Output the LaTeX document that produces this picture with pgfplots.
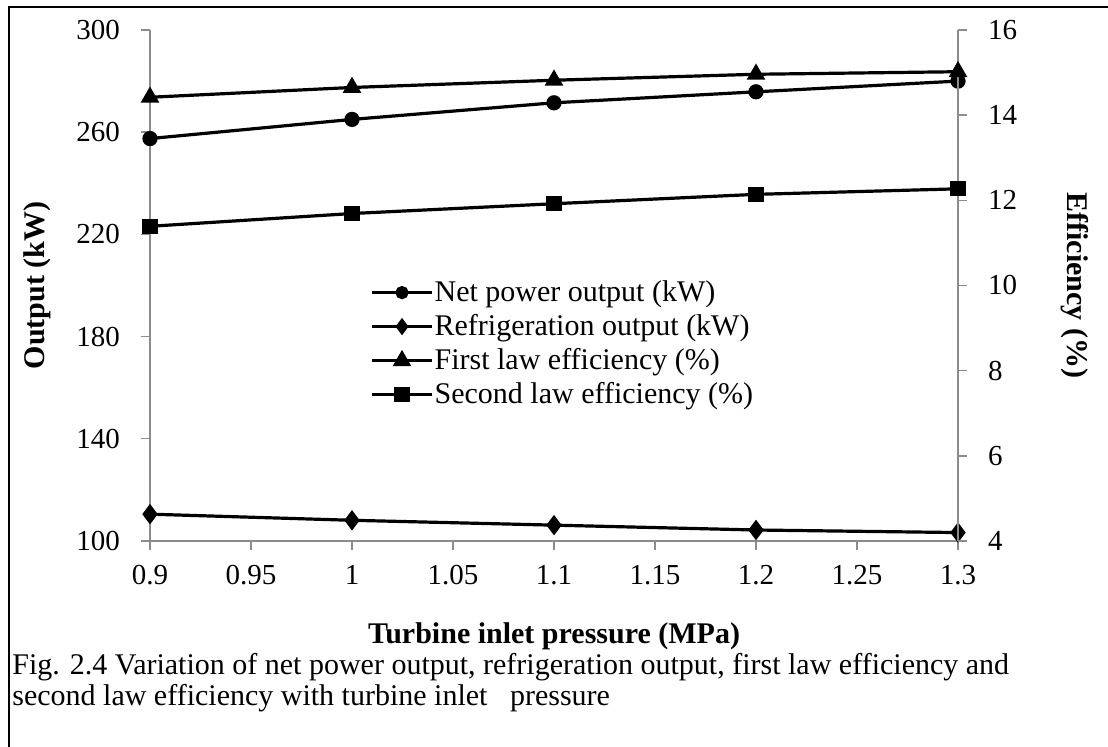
\documentclass[border=0pt]{standalone}
\usepackage{fontspec}
\setmainfont{Liberation Serif}
\usepackage{pgfplots}
\usepackage{pgfplotstable}
\pgfplotsset{compat=1.18}

\pgfplotstableread{
x net ref first second
0.9 257.5 110.5 14.42 11.39
1.0 265.0 108.1 14.65 11.69
1.1 271.5 106.2 14.82 11.92
1.2 275.8 104.3 14.96 12.14
1.3 280.0 103.3 15.02 12.27
}\datatable

\pgfplotsset{common/.style={
  scale only axis, width=404pt, height=255.5pt,
  xmin=0.9, xmax=1.3,
  axis line style={black!45, line width=0.7pt},
  tick style={black!45, line width=0.7pt},
  tick align=outside, major tick length=4.5pt,
  ticklabel style={font=\fontsize{14.5}{16}\selectfont},
  /pgf/number format/assume math mode=true,
  legend image code/.code={\draw[mark repeat=2,mark phase=2] plot coordinates {(0pt,0pt) (15pt,0pt) (30pt,0pt)};},
}}

\begin{document}
\begin{tikzpicture}
\begin{axis}[common,
  axis x line*=bottom, axis y line*=left,
  ymin=100, ymax=300, ytick={100,140,180,220,260,300},
  xtick={0.9,0.95,1,1.05,1.1,1.15,1.2,1.25,1.3},
  xticklabels={0.9,0.95,1,1.05,1.1,1.15,1.2,1.25,1.3},
  xticklabel style={yshift=-4pt},
  yticklabel style={xshift=-7pt},
  xlabel={Turbine inlet pressure (MPa)},
  ylabel={Output (kW)},
  xlabel style={at={(axis description cs:0.5,-0.186)}, anchor=center, font=\bfseries\fontsize{15}{17}\selectfont},
  ylabel style={at={(axis description cs:-0.14,0.5)}, anchor=center, font=\bfseries\fontsize{15}{17}\selectfont},
]
\addplot[black, line width=1.6pt, mark=*, mark size=3pt, mark options={solid, fill=black}] table[x=x, y=net]{\datatable};
\addplot[black, line width=1.6pt, mark=diamond*, mark size=3.8pt, mark options={solid, fill=black}] table[x=x, y=ref]{\datatable};
\end{axis}
\begin{axis}[common,
  axis x line=none, axis y line*=right,
  ymin=4, ymax=16, ytick={4,6,8,10,12,14,16},
  yticklabel style={xshift=7pt},
  ylabel={Efficiency (\%)},
  ylabel style={at={(axis description cs:1.1448,0.5)}, anchor=center, rotate=180, font=\bfseries\fontsize{15}{17}\selectfont},
  legend cell align=left,
  legend style={draw=none, fill=none, at={(0.2723,0.516)}, anchor=north west, inner sep=0pt,
    font=\fontsize{15}{16.8}\selectfont, row sep=2pt,
    nodes={inner xsep=0.5pt, inner ysep=1.5pt}},
]
\addlegendimage{black, line width=1.6pt, mark=*, mark size=2.5pt, mark options={solid, fill=black}}
\addlegendentry{Net power output (kW)}
\addlegendimage{black, line width=1.6pt, mark=diamond*, mark size=3pt, mark options={solid, fill=black}}
\addlegendentry{Refrigeration output (kW)}
\addplot[black, line width=1.6pt, mark=triangle*, mark size=3.8pt, mark options={solid, fill=black}] table[x=x, y=first]{\datatable};
\addlegendentry{First law efficiency (\%)}
\addplot[black, line width=1.6pt, mark=square*, mark size=3pt, mark options={solid, fill=black}] table[x=x, y=second]{\datatable};
\addlegendentry{Second law efficiency (\%)}
\end{axis}
\draw[line width=1pt] (-70.5pt,-110pt) -- (-70.5pt,267pt) -- (490pt,267pt);
\node[anchor=base west, inner sep=0pt, font=\fontsize{15}{16}\selectfont] at (-69pt,-67pt) {Fig. 2.4 Variation of net power output, refrigeration output, first law efficiency and};
\node[anchor=base west, inner sep=0pt, font=\fontsize{15}{16}\selectfont] at (-69pt,-82.5pt) {second law efficiency with turbine inlet\ \ \ pressure};
\pgfresetboundingbox
\path (-75pt,-103pt) rectangle (479pt,270.5pt);
\end{tikzpicture}
\end{document}
